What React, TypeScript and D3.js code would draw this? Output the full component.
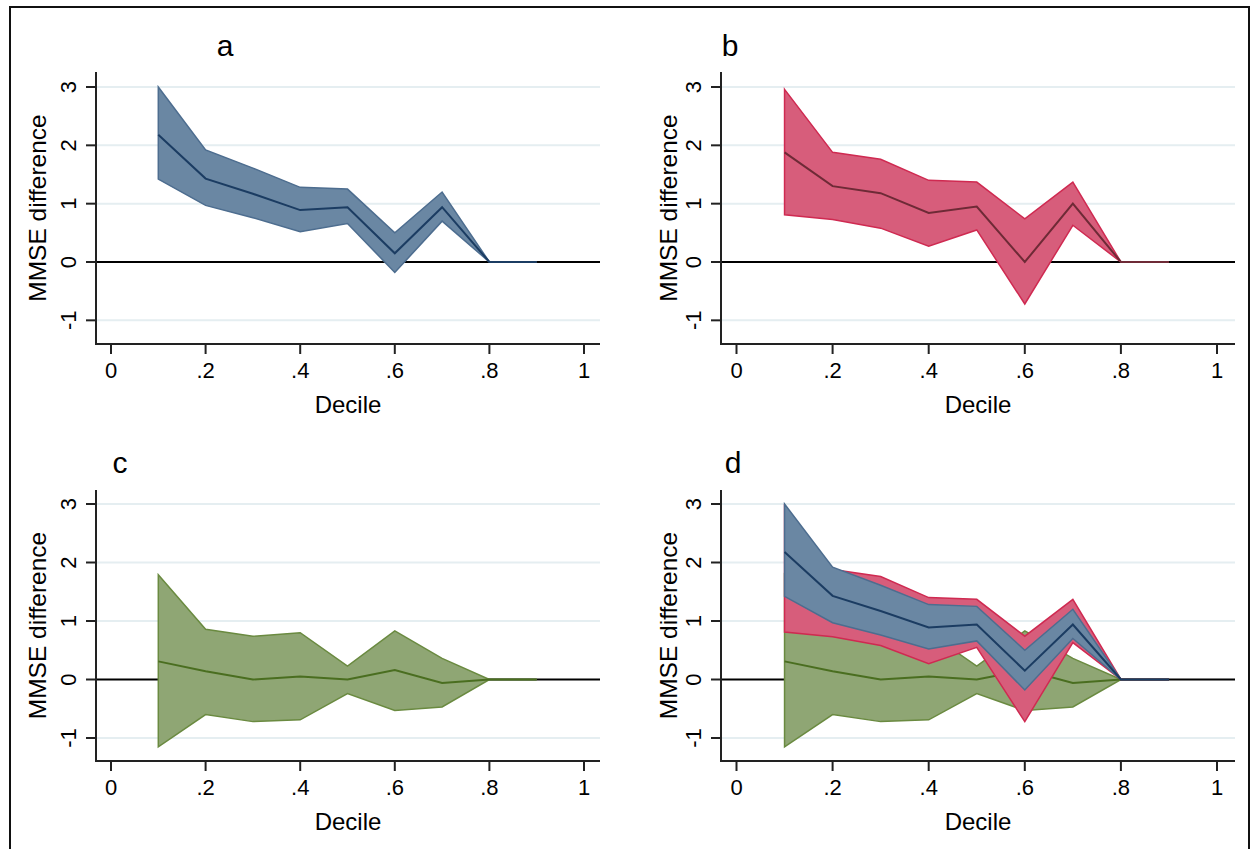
import React from "react";
import * as d3 from "d3";

// decile positions (x) and the three estimate series
const deciles = [0.1, 0.2, 0.3, 0.4, 0.5, 0.6, 0.7, 0.8, 0.9];

const blueMean = [2.18, 1.43, 1.17, 0.89, 0.94, 0.15, 0.94, 0.0, 0.0];
const blueUpper = [3.0, 1.92, 1.61, 1.28, 1.25, 0.5, 1.2, 0.0, 0.0];
const blueLower = [1.42, 0.97, 0.76, 0.52, 0.66, -0.18, 0.7, 0.0, 0.0];

const redMean = [1.88, 1.3, 1.18, 0.84, 0.95, 0.0, 1.0, 0.0, 0.0];
const redUpper = [2.96, 1.88, 1.76, 1.4, 1.37, 0.74, 1.37, 0.0, 0.0];
const redLower = [0.81, 0.73, 0.58, 0.27, 0.55, -0.72, 0.63, 0.0, 0.0];

const greenMean = [0.31, 0.14, 0.0, 0.05, 0.0, 0.16, -0.06, 0.0, 0.0];
const greenUpper = [1.79, 0.86, 0.74, 0.8, 0.23, 0.83, 0.36, 0.0, 0.0];
const greenLower = [-1.15, -0.6, -0.72, -0.69, -0.24, -0.53, -0.47, 0.0, 0.0];

const xTicks = [0, 0.2, 0.4, 0.6, 0.8, 1];
const yTicks = [-1, 0, 1, 2, 3];

const font = "'Liberation Sans', Arial, Helvetica, sans-serif";

const styles = {
  blue: { fill: "#6a87a3", edge: "#4d6d8f", line: "#1b3c62" },
  red: { fill: "#d75d7b", edge: "#cf2a51", line: "#6e2a36" },
  green: { fill: "#8fa674", edge: "#6a8a40", line: "#4a6e20" },
};

type Series = { mean: number[]; upper: number[]; lower: number[]; style: keyof typeof styles };

const blue: Series = { mean: blueMean, upper: blueUpper, lower: blueLower, style: "blue" };
const red: Series = { mean: redMean, upper: redUpper, lower: redLower, style: "red" };
const green: Series = { mean: greenMean, upper: greenUpper, lower: greenLower, style: "green" };

const fmtX = (d: number) => (d === 0 || d === 1 ? String(d) : String(d).replace(/^0/, ""));

function Panel({ label, left, top, series }: { label: string; left: boolean; top: boolean; series: Series[] }) {
  const axisX = left ? 96 : 721;
  const x0 = left ? 111 : 736.5;
  const x1 = left ? 584 : 1217;
  const rightEnd = left ? 600 : 1235;
  const yZero = top ? 262 : 679.5;
  const yThree = top ? 87 : 504;
  const axisTop = top ? 72 : 490;
  const axisY = top ? 344 : 761;

  const xScale = d3.scaleLinear().domain([0, 1]).range([x0, x1]);
  const yScale = d3.scaleLinear().domain([0, 3]).range([yZero, yThree]);

  return (
    <g>
      {/* gridlines */}
      {yTicks
        .filter((t) => t !== 0)
        .map((t) => (
          <line key={t} x1={axisX + 1} x2={rightEnd} y1={yScale(t)} y2={yScale(t)} stroke="#e5eef1" strokeWidth={2} />
        ))}
      {/* zero reference line */}
      <line x1={axisX} x2={rightEnd} y1={yScale(0)} y2={yScale(0)} stroke="#000" strokeWidth={2} />

      {series.map((s, k) => {
        const st = styles[s.style];
        const band = d3
          .area<number>()
          .x((_, i) => xScale(deciles[i]))
          .y0((_, i) => yScale(s.lower[i]))
          .y1((_, i) => yScale(s.upper[i]));
        const line = d3
          .line<number>()
          .x((_, i) => xScale(deciles[i]))
          .y((d) => yScale(d));
        return (
          <g key={k}>
            <path d={band(s.mean) || ""} fill={st.fill} stroke={st.edge} strokeWidth={1.5} />
            <path d={line(s.mean) || ""} fill="none" stroke={st.line} strokeWidth={2} />
          </g>
        );
      })}

      {/* axes */}
      <line x1={axisX} x2={axisX} y1={axisTop} y2={axisY + 1} stroke="#222" strokeWidth={2} />
      <line x1={axisX - 1} x2={rightEnd} y1={axisY} y2={axisY} stroke="#222" strokeWidth={2} />

      {yTicks.map((t) => (
        <g key={t} transform={`translate(0,${yScale(t)})`}>
          <line x1={axisX - 10} x2={axisX} stroke="#222" strokeWidth={2} />
          <text
            transform={`translate(${axisX - 28},0) rotate(-90)`}
            textAnchor="middle"
            dy="0.36em"
            fontSize={22}
            fontFamily={font}
            fill="#000"
          >
            {t}
          </text>
        </g>
      ))}

      {xTicks.map((t) => (
        <g key={t} transform={`translate(${xScale(t)},${axisY})`}>
          <line y1={0} y2={10} stroke="#222" strokeWidth={2} />
          <text y={34} textAnchor="middle" fontSize={22} fontFamily={font} fill="#000">
            {fmtX(t)}
          </text>
        </g>
      ))}

      <text
        transform={`translate(${left ? 37 : 668},${(axisTop + axisY) / 2}) rotate(-90)`}
        textAnchor="middle"
        dy="0.36em"
        fontSize={24.5}
        fontFamily={font}
        fill="#000"
      >
        MMSE difference
      </text>
      <text x={(axisX + rightEnd) / 2} y={axisY + 69} textAnchor="middle" fontSize={24} fontFamily={font} fill="#000">
        Decile
      </text>
      <text
        x={label === "a" ? 225 : label === "b" ? 730 : label === "c" ? 120 : 733}
        y={top ? 56 : 473}
        textAnchor="middle"
        fontSize={30}
        fontFamily={font}
        fill="#000"
      >
        {label}
      </text>
    </g>
  );
}

export default function App() {
  return (
    <svg width={1251} height={849} style={{ position: "absolute", left: 0, top: 0, background: "#fff" }}>
      <rect x={0} y={0} width={1251} height={849} fill="#fff" />
      <Panel label="a" left top series={[blue]} />
      <Panel label="b" left={false} top series={[red]} />
      <Panel label="c" left top={false} series={[green]} />
      <Panel label="d" left={false} top={false} series={[green, red, blue]} />
      <rect x={10} y={7} width={1239} height={870} fill="none" stroke="#111" strokeWidth={2} />
    </svg>
  );
}
